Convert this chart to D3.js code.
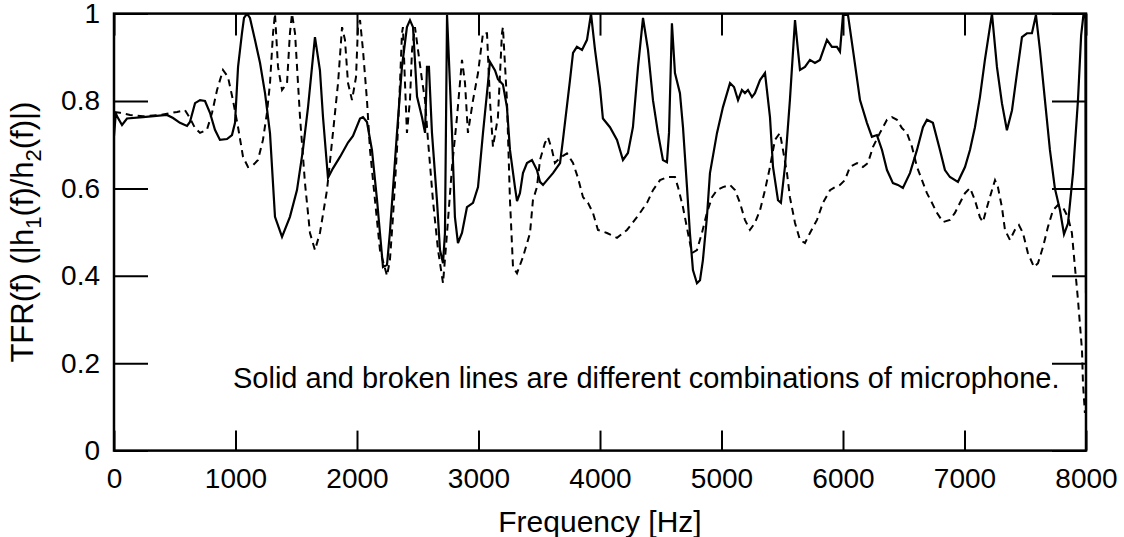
<!DOCTYPE html>
<meta charset="utf-8">
<style>
body { margin: 0; background: #fff; }
text { font-family: "Liberation Sans", Arial, Helvetica, sans-serif; fill: #000; }
.axis path { display: none; }
.axis line { stroke: #000; stroke-width: 2; }
</style>
<body>
<script src="https://d3js.org/d3.v7.min.js"></script>
<script>

// frequency ticks and labels
var xTicks = [0, 1000, 2000, 3000, 4000, 5000, 6000, 7000, 8000];
var xTickLabels = ["0", "1000", "2000", "3000", "4000", "5000", "6000", "7000", "8000"];
var yTicks = [0, 0.2, 0.4, 0.6, 0.8, 1];
var yTickLabels = ["0", "0.2", "0.4", "0.6", "0.8", "1"];

// solid line
var solidFreq = [0, 15, 25, 66, 107, 239, 436, 486, 543, 601, 625, 667, 708, 749, 790, 831, 872, 930, 971, 996,
  1021, 1053, 1070, 1095, 1119, 1160, 1202, 1243, 1284, 1325, 1383, 1448, 1506, 1555, 1597, 1654, 1695, 1720, 1761, 1802,
  1860, 1926, 1967, 2025, 2049, 2082, 2123, 2165, 2189, 2214, 2247, 2271, 2329, 2370, 2411, 2436, 2461, 2494, 2535, 2560,
  2576, 2592, 2617, 2658, 2683, 2708, 2724, 2741, 2782, 2806, 2831, 2864, 2905, 2955, 2996, 3037, 3078, 3094, 3136, 3160,
  3201, 3234, 3259, 3300, 3317, 3341, 3366, 3399, 3440, 3481, 3506, 3531, 3564, 3613, 3671, 3695, 3753, 3778, 3810, 3852,
  3893, 3926, 3959, 4000, 4024, 4082, 4140, 4189, 4230, 4271, 4313, 4354, 4395, 4436, 4477, 4518, 4551, 4568, 4592, 4617,
  4658, 4683, 4716, 4740, 4765, 4798, 4823, 4847, 4880, 4905, 4963, 5012, 5070, 5103, 5136, 5168, 5193, 5218, 5251, 5275,
  5317, 5358, 5399, 5424, 5465, 5489, 5522, 5563, 5605, 5629, 5646, 5687, 5728, 5769, 5810, 5868, 5909, 5950, 5975, 6000,
  6041, 6082, 6140, 6197, 6238, 6279, 6321, 6362, 6411, 6452, 6493, 6551, 6609, 6658, 6691, 6740, 6798, 6839, 6880, 6946,
  7004, 7045, 7086, 7127, 7168, 7226, 7267, 7308, 7349, 7391, 7432, 7473, 7514, 7555, 7588, 7621, 7662, 7703, 7744, 7786,
  7819, 7852, 7893, 7934, 7960, 7980, 7995, 8000];
var solidTfr = [0.72, 0.772, 0.765, 0.745, 0.76, 0.763, 0.768, 0.761, 0.75, 0.743, 0.752, 0.795, 0.802, 0.8, 0.773, 0.734, 0.711, 0.713, 0.722, 0.75,
  0.878, 0.955, 0.99, 1.0, 0.99, 0.94, 0.887, 0.818, 0.726, 0.535, 0.489, 0.535, 0.596, 0.688, 0.786, 0.946, 0.87, 0.764, 0.624, 0.646,
  0.672, 0.705, 0.72, 0.76, 0.763, 0.752, 0.688, 0.573, 0.498, 0.42, 0.425, 0.5, 0.727, 0.878, 0.969, 0.985, 0.969, 0.81, 0.763, 0.727,
  0.878, 0.878, 0.727, 0.573, 0.459, 0.429, 0.498, 0.997, 0.727, 0.534, 0.475, 0.498, 0.557, 0.567, 0.603, 0.727, 0.841, 0.89, 0.87, 0.85,
  0.838, 0.786, 0.688, 0.603, 0.571, 0.589, 0.635, 0.658, 0.665, 0.642, 0.615, 0.608, 0.619, 0.635, 0.658, 0.711, 0.848, 0.91, 0.924, 0.917,
  0.94, 1.0, 0.917, 0.83, 0.76, 0.74, 0.711, 0.665, 0.681, 0.74, 0.878, 0.99, 0.917, 0.802, 0.727, 0.665, 0.66, 0.727, 0.978, 0.864,
  0.818, 0.74, 0.603, 0.498, 0.413, 0.383, 0.39, 0.436, 0.534, 0.635, 0.727, 0.786, 0.841, 0.832, 0.802, 0.825, 0.818, 0.825, 0.809, 0.818,
  0.848, 0.864, 0.763, 0.649, 0.573, 0.567, 0.649, 0.802, 0.985, 0.917, 0.871, 0.878, 0.894, 0.887, 0.894, 0.94, 0.924, 0.924, 0.913, 0.997,
  0.997, 0.917, 0.802, 0.75, 0.718, 0.722, 0.688, 0.642, 0.612, 0.608, 0.601, 0.635, 0.688, 0.74, 0.757, 0.75, 0.688, 0.642, 0.626, 0.615,
  0.649, 0.688, 0.74, 0.809, 0.894, 1.0, 0.878, 0.795, 0.733, 0.779, 0.864, 0.946, 0.955, 0.955, 0.997, 0.917, 0.802, 0.688, 0.6, 0.55,
  0.495, 0.52, 0.635, 0.802, 0.95, 1.0, 0.99, 0.36];

// broken line
var dashFreq = [0, 49, 132, 239, 379, 519, 584, 625, 667, 708, 765, 807, 848, 897, 938, 979, 1021, 1062, 1103, 1144,
  1185, 1226, 1259, 1284, 1309, 1325, 1350, 1383, 1424, 1448, 1465, 1490, 1531, 1572, 1613, 1654, 1695, 1753, 1802, 1844,
  1877, 1901, 1926, 1959, 1992, 2008, 2025, 2049, 2082, 2107, 2148, 2189, 2247, 2271, 2296, 2329, 2354, 2370, 2378, 2395,
  2411, 2436, 2453, 2477, 2502, 2535, 2560, 2584, 2625, 2667, 2708, 2741, 2782, 2823, 2864, 2889, 2913, 2955, 2996, 3037,
  3070, 3094, 3119, 3160, 3193, 3201, 3234, 3259, 3284, 3317, 3366, 3424, 3448, 3481, 3506, 3547, 3572, 3605, 3629, 3671,
  3728, 3778, 3819, 3860, 3901, 3942, 3983, 4057, 4140, 4222, 4304, 4387, 4436, 4494, 4559, 4617, 4642, 4683, 4724, 4757,
  4798, 4839, 4880, 4922, 4963, 5012, 5070, 5111, 5152, 5193, 5234, 5275, 5317, 5358, 5399, 5440, 5481, 5506, 5539, 5563,
  5605, 5646, 5687, 5728, 5786, 5835, 5893, 5934, 5975, 6016, 6057, 6115, 6164, 6205, 6247, 6304, 6362, 6403, 6444, 6485,
  6526, 6568, 6609, 6650, 6691, 6732, 6773, 6823, 6880, 6921, 6963, 7004, 7045, 7086, 7127, 7152, 7185, 7209, 7251, 7275,
  7308, 7333, 7374, 7415, 7448, 7481, 7522, 7572, 7605, 7646, 7687, 7728, 7769, 7810, 7852, 7884, 7909, 7934, 7967, 7975,
  7991];
var dashTfr = [0.775, 0.773, 0.768, 0.765, 0.768, 0.775, 0.779, 0.761, 0.738, 0.727, 0.734, 0.773, 0.825, 0.871, 0.855, 0.802, 0.74, 0.672, 0.649, 0.653,
  0.665, 0.711, 0.773, 0.841, 0.955, 1.0, 0.878, 0.825, 0.841, 0.955, 1.0, 0.955, 0.763, 0.612, 0.498, 0.459, 0.498, 0.596, 0.727, 0.841,
  0.969, 0.94, 0.841, 0.802, 0.855, 0.969, 0.985, 0.917, 0.802, 0.688, 0.573, 0.459, 0.4, 0.436, 0.534, 0.688, 0.841, 0.955, 0.969, 0.841,
  0.727, 0.802, 0.917, 0.969, 0.917, 0.848, 0.802, 0.711, 0.573, 0.459, 0.383, 0.498, 0.649, 0.763, 0.894, 0.841, 0.727, 0.802, 0.864, 0.955,
  0.955, 0.802, 0.695, 0.763, 0.955, 0.969, 0.802, 0.573, 0.42, 0.406, 0.443, 0.498, 0.573, 0.603, 0.665, 0.704, 0.717, 0.688, 0.658, 0.67,
  0.68, 0.658, 0.624, 0.58, 0.567, 0.544, 0.505, 0.498, 0.487, 0.505, 0.534, 0.567, 0.596, 0.619, 0.626, 0.626, 0.603, 0.557, 0.498, 0.452,
  0.459, 0.498, 0.544, 0.58, 0.596, 0.603, 0.608, 0.596, 0.567, 0.528, 0.505, 0.521, 0.55, 0.596, 0.649, 0.711, 0.727, 0.688, 0.635, 0.58,
  0.521, 0.482, 0.475, 0.498, 0.528, 0.567, 0.596, 0.603, 0.608, 0.619, 0.649, 0.658, 0.649, 0.658, 0.695, 0.727, 0.757, 0.763, 0.757, 0.738,
  0.727, 0.695, 0.649, 0.619, 0.589, 0.567, 0.544, 0.523, 0.528, 0.544, 0.567, 0.589, 0.601, 0.573, 0.534, 0.523, 0.557, 0.58, 0.619, 0.603,
  0.557, 0.505, 0.482, 0.505, 0.516, 0.498, 0.452, 0.42, 0.429, 0.466, 0.512, 0.55, 0.562, 0.557, 0.534, 0.498, 0.42, 0.345, 0.23, 0.155,
  0.086];

var width = 1124, height = 537;
// plot box (note: "top" is reserved on window, so prefixed names)
var mLeft = 114, mRight = 1086, mTop = 13.6, mBottom = 450.6;

var svg = d3.select("body").append("svg")
    .attr("width", width)
    .attr("height", height);

var x = d3.scaleLinear().domain([0, 8000]).range([mLeft, mRight]);
var y = d3.scaleLinear().domain([0, 1]).range([mBottom, mTop]);

svg.append("clipPath").attr("id", "plot")
  .append("rect")
    .attr("x", mLeft).attr("y", mTop)
    .attr("width", mRight - mLeft).attr("height", mBottom - mTop);

var line = d3.line()
    .x(function(d) { return x(d[0]); })
    .y(function(d) { return y(d[1]); });

var solid = d3.zip(solidFreq, solidTfr);
var dashed = d3.zip(dashFreq, dashTfr);

svg.append("path")
    .datum(dashed)
    .attr("clip-path", "url(#plot)")
    .attr("d", line)
    .attr("fill", "none")
    .attr("stroke", "#000")
    .attr("stroke-width", 2)
    .attr("stroke-dasharray", "7,5");

svg.append("path")
    .datum(solid)
    .attr("clip-path", "url(#plot)")
    .attr("d", line)
    .attr("fill", "none")
    .attr("stroke", "#000")
    .attr("stroke-width", 2.2);

// axes, ticks pointing inwards on all four sides
svg.append("g")
    .attr("class", "axis")
    .attr("transform", "translate(0," + mBottom + ")")
    .call(d3.axisBottom(x).tickValues(xTicks).tickSize(-20).tickPadding(18)
      .tickFormat(function(d, i) { return xTickLabels[i]; }))
    .selectAll("text").style("font-size", "28px");

svg.append("g")
    .attr("class", "axis")
    .attr("transform", "translate(0," + mTop + ")")
    .call(d3.axisTop(x).tickValues(xTicks).tickSize(-22).tickFormat(""));

svg.append("g")
    .attr("class", "axis")
    .attr("transform", "translate(" + mLeft + ",0)")
    .call(d3.axisLeft(y).tickValues(yTicks).tickSize(-34).tickPadding(14)
      .tickFormat(function(d, i) { return yTickLabels[i]; }))
    .selectAll("text").style("font-size", "28px");

svg.append("g")
    .attr("class", "axis")
    .attr("transform", "translate(" + mRight + ",0)")
    .call(d3.axisRight(y).tickValues(yTicks).tickSize(-34).tickFormat(""));

svg.append("rect")
    .attr("x", mLeft).attr("y", mTop)
    .attr("width", mRight - mLeft).attr("height", mBottom - mTop)
    .attr("fill", "none")
    .attr("stroke", "#000")
    .attr("stroke-width", 2.5);

svg.append("text")
    .attr("x", 233)
    .attr("y", 388)
    .style("font-size", "29px")
    .text("Solid and broken lines are different combinations of microphone.");

svg.append("text")
    .attr("x", (mLeft + mRight) / 2)
    .attr("y", 532)
    .attr("text-anchor", "middle")
    .style("font-size", "30px")
    .text("Frequency [Hz]");

var ylab = svg.append("text")
    .attr("transform", "translate(33," + ((mTop + mBottom) / 2) + ") rotate(-90)")
    .attr("text-anchor", "middle")
    .style("font-size", "31px");
ylab.append("tspan").text("TFR(f) (|h");
ylab.append("tspan").attr("dy", 8).style("font-size", "22px").text("1");
ylab.append("tspan").attr("dy", -8).text("(f)/h");
ylab.append("tspan").attr("dy", 8).style("font-size", "22px").text("2");
ylab.append("tspan").attr("dy", -8).text("(f)|)");

</script>
</body>
